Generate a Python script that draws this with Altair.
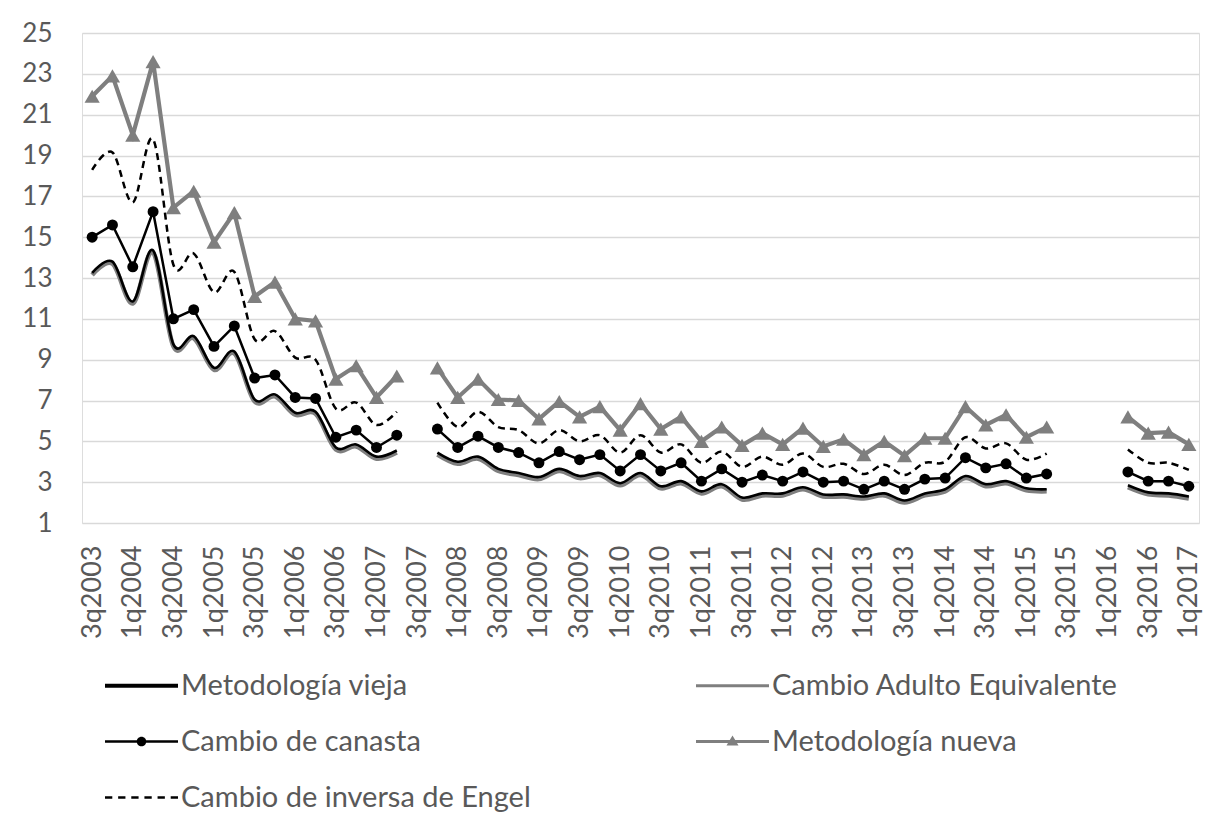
import altair as alt
import pandas as pd

quarters = ["3q2003", "4q2003"] + [f"{q}q{y}" for y in range(2004, 2017) for q in (1, 2, 3, 4)] + ["1q2017"]

# legend order (legend fills column by column): left column then right column
names = ["Metodología vieja", "Cambio de canasta", "Cambio de inversa de Engel",
         "Cambio Adulto Equivalente", "Metodología nueva"]
colors = ["#000000", "#000000", "#000000", "#7f7f7f", "#7f7f7f"]

N = None
vieja = [13.25, 13.8, 11.85, 14.35, 9.75, 10.15, 8.6, 9.4, 7.05, 7.3, 6.4, 6.45, 4.7, 4.85, 4.25, 4.55, N,
         4.45, 4.0, 4.25, 3.65, 3.45, 3.25, 3.65, 3.3, 3.45, 2.95, 3.45, 2.8, 3.05, 2.55, 2.9, 2.25, 2.45, 2.45, 2.75,
         2.4, 2.4, 2.3, 2.45, 2.1, 2.45, 2.65, 3.3, 2.9, 3.05, 2.7, 2.65, N, N, N, 2.85, 2.5, 2.45, 2.3]
adulto = [13.15, 13.7, 11.75, 14.25, 9.65, 10.05, 8.5, 9.3, 6.95, 7.2, 6.3, 6.35, 4.6, 4.75, 4.15, 4.45, N,
          4.35, 3.9, 4.15, 3.55, 3.35, 3.15, 3.55, 3.2, 3.35, 2.85, 3.35, 2.7, 2.95, 2.45, 2.8, 2.15, 2.35, 2.35, 2.65,
          2.3, 2.3, 2.2, 2.35, 2.0, 2.35, 2.55, 3.2, 2.8, 2.95, 2.6, 2.55, N, N, N, 2.75, 2.4, 2.35, 2.2]
canasta = [15.0, 15.6, 13.55, 16.25, 11.0, 11.45, 9.65, 10.65, 8.1, 8.25, 7.15, 7.1, 5.2, 5.55, 4.7, 5.3, N,
           5.6, 4.7, 5.25, 4.7, 4.45, 3.95, 4.5, 4.1, 4.35, 3.55, 4.35, 3.55, 3.95, 3.05, 3.65, 3.0, 3.35, 3.05, 3.5,
           3.0, 3.05, 2.65, 3.05, 2.65, 3.15, 3.2, 4.2, 3.7, 3.9, 3.2, 3.4, N, N, N, 3.5, 3.05, 3.05, 2.8]
nueva = [21.9, 22.9, 20.0, 23.6, 16.45, 17.25, 14.75, 16.2, 12.1, 12.8, 11.0, 10.9, 8.05, 8.7, 7.15, 8.2, N,
         8.6, 7.15, 8.05, 7.05, 7.0, 6.1, 6.95, 6.2, 6.7, 5.55, 6.85, 5.6, 6.2, 5.0, 5.7, 4.8, 5.4, 4.85, 5.65,
         4.75, 5.1, 4.35, 5.0, 4.3, 5.15, 5.15, 6.7, 5.8, 6.3, 5.2, 5.7, N, N, N, 6.2, 5.4, 5.45, 4.85]
engel = [18.3, 19.15, 16.7, 19.8, 13.65, 14.2, 12.3, 13.3, 10.0, 10.4, 9.1, 9.0, 6.6, 6.9, 5.8, 6.45, N,
         6.9, 5.7, 6.45, 5.7, 5.55, 4.9, 5.55, 5.0, 5.3, 4.45, 5.3, 4.45, 4.85, 3.95, 4.5, 3.75, 4.25, 3.85, 4.4,
         3.75, 3.9, 3.4, 3.85, 3.35, 3.95, 4.0, 5.2, 4.65, 4.9, 4.1, 4.4, N, N, N, 4.6, 3.95, 3.95, 3.6]

series = {"Metodología vieja": vieja, "Cambio Adulto Equivalente": adulto, "Cambio de canasta": canasta,
          "Metodología nueva": nueva, "Cambio de inversa de Engel": engel}

rows = []
for name, vals in series.items():
    for q, v in zip(quarters, vals):
        rows.append({"q": q, "serie": name, "v": v})
df = pd.DataFrame(rows)

FONT = "Lato"
GREY_TXT = "#595959"

# ---- legend glyphs as filled custom symbol paths (unit = half of the 73px symbol) ----
U = 36.5
def rect(h_px):
    h = h_px / 2 / U
    return f"M-1,{-h:.4f}H1V{h:.4f}H-1Z"
def circle(r_px):
    r = r_px / U
    return f"M{-r:.4f},0A{r:.4f},{r:.4f},0,1,1,{r:.4f},0A{r:.4f},{r:.4f},0,1,1,{-r:.4f},0Z"
def tri(w_px, h_px):
    w = w_px / 2 / U
    top = -h_px * 0.6 / U
    bot = h_px * 0.4 / U
    return f"M0,{top:.4f}L{w:.4f},{bot:.4f}L{-w:.4f},{bot:.4f}Z"
def dashes(h_px, n, dash):
    h = h_px / 2 / U
    gap = (2 - n * dash) / (n - 1)
    out = ""
    x0 = -1.0
    for _ in range(n):
        out += f"M{x0:.4f},{-h:.4f}H{x0 + dash:.4f}V{h:.4f}H{x0:.4f}Z"
        x0 += dash + gap
    return out

glyph_map = {
    "Metodología vieja": rect(4.2),
    "Cambio de canasta": rect(2.6) + circle(4.8),
    "Cambio de inversa de Engel": dashes(2.4, 6, 0.2),
    "Cambio Adulto Equivalente": rect(2.8),
    "Metodología nueva": rect(2.8) + tri(12, 10),
}
glyphs = [glyph_map[n] for n in names]

leg = dict(orient="none", legendX=23, legendY=616, columns=2, columnPadding=165, rowPadding=4,
           title=None, symbolSize=5329, symbolStrokeWidth=0, symbolOpacity=1,
           labelFont=FONT, labelFontSize=29, labelColor=GREY_TXT, labelOffset=3, labelLimit=600, padding=0)

legend_layer = alt.Chart(df).transform_filter("false").mark_point(filled=True, opacity=1).encode(
    color=alt.Color("serie:N", scale=alt.Scale(domain=names, range=colors), legend=alt.Legend(**leg)),
    shape=alt.Shape("serie:N", scale=alt.Scale(domain=names, range=glyphs), legend=alt.Legend(**leg)),
)

x = alt.X("q:O", scale=alt.Scale(type="point", domain=quarters, padding=0.5),
          axis=alt.Axis(values=quarters[::2], labelAngle=-90, labelFont=FONT, labelFontSize=27,
                        labelColor=GREY_TXT, ticks=False, domain=False, grid=False,
                        labelPadding=22, title=None, labelOverlap=False))
y = alt.Y("v:Q", scale=alt.Scale(domain=[1, 25], nice=False, zero=False),
          axis=alt.Axis(values=list(range(1, 26, 2)), labelFont=FONT, labelFontSize=26,
                        labelColor=GREY_TXT, ticks=False, domain=False, grid=True,
                        gridColor="#d9d9d9", gridWidth=1.5, labelPadding=30, title=None))

base = alt.Chart(df)

def line(name, col, width, interp, dash=None):
    kw = dict(strokeWidth=width, interpolate=interp, color=col)
    if dash:
        kw["strokeDash"] = dash
    return base.transform_filter(alt.datum.serie == name).mark_line(**kw).encode(x=x, y=y)

l_ae = line("Cambio Adulto Equivalente", "#7f7f7f", 4.5, "cardinal")
l_vieja = line("Metodología vieja", "#000000", 2.6, "cardinal")
l_engel = line("Cambio de inversa de Engel", "#000000", 2.5, "cardinal", [7, 5])
l_can = line("Cambio de canasta", "#000000", 2.5, "linear")
l_nue = line("Metodología nueva", "#7f7f7f", 4.2, "linear")

p_can = base.transform_filter(alt.datum.serie == "Cambio de canasta").mark_point(
    shape="circle", filled=True, size=120, opacity=1, color="#000000").encode(x=x, y=y)
p_nue = base.transform_filter(alt.datum.serie == "Metodología nueva").mark_point(
    shape="triangle-up", filled=True, size=230, opacity=1, color="#7f7f7f").encode(x=x, y=y)

chart = alt.layer(l_ae, l_vieja, l_engel, l_can, l_nue, p_can, p_nue, legend_layer).properties(
    width=1117, height=490,
    autosize=alt.AutoSizeParams(type="none"),
    padding={"left": 74, "top": 25, "right": 21, "bottom": 303},
).configure_view(stroke=None).configure(background="white")

chart.save("out.html", embed_options={"renderer": "svg", "actions": False})
